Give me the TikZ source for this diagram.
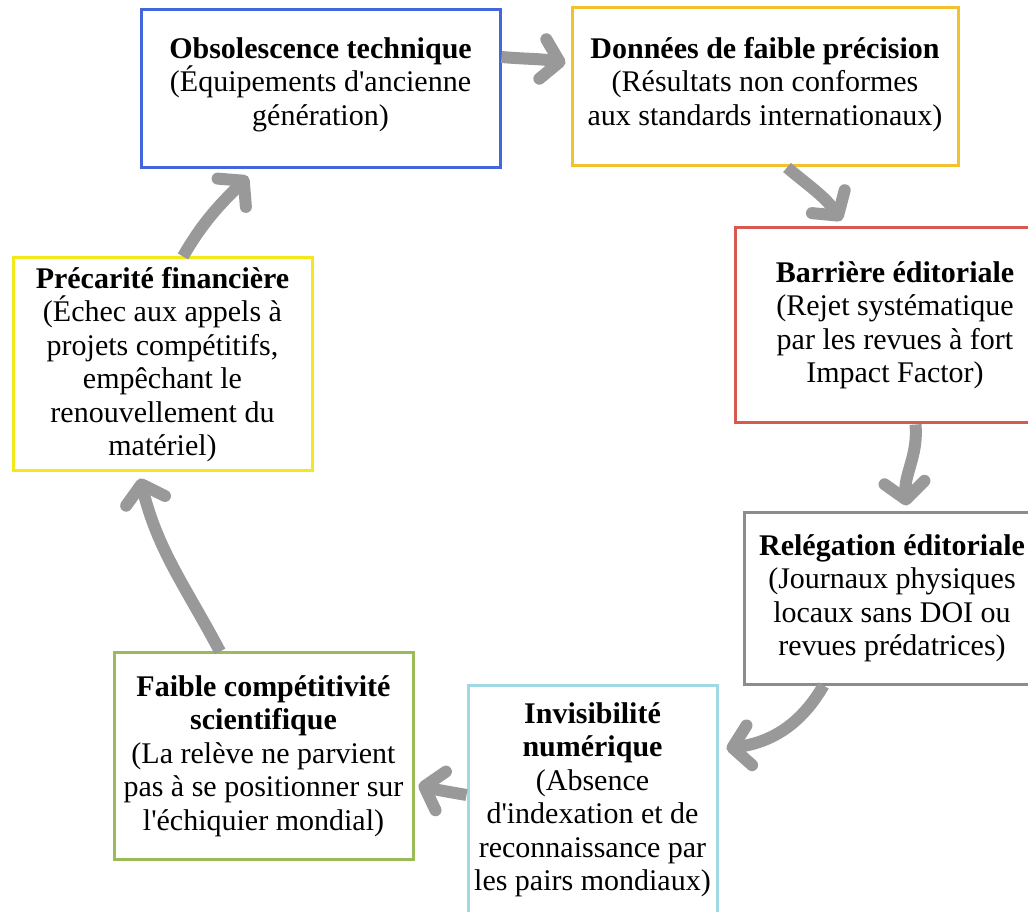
\documentclass[tikz,border=0pt]{standalone}
\usepackage{fontspec}
\setmainfont{Liberation Serif}
\usetikzlibrary{arrows.meta}
\definecolor{cblue}{HTML}{4466DD}
\definecolor{cgold}{HTML}{F2C12E}
\definecolor{cred}{HTML}{D65A4F}
\definecolor{cgray}{HTML}{8C8C8C}
\definecolor{clblue}{HTML}{A0D8E4}
\definecolor{cgreen}{HTML}{9BBB59}
\definecolor{cyellow}{HTML}{F2E81A}
\definecolor{arrowgray}{HTML}{999999}
\newcommand{\apos}{\textquotesingle}
\begin{document}
\begin{tikzpicture}[x=1pt,y=1pt,
  box/.style={draw, line width=3pt, inner sep=0pt, align=center,
    font=\fontsize{30}{33.5}\selectfont, text=black},
  flow/.style={draw=arrowgray, line width=12pt,
    -{Straight Barb[length=17pt,width=40pt,round]}}]
\useasboundingbox (0,0) rectangle (1028,911);
\clip (0,0) rectangle (1028,911);
\fill[white] (0,0) rectangle (1028,911);

\node[box, draw=cblue, minimum width=359pt, minimum height=158pt] (o) at (320.5,822)
  {\textbf{Obsolescence technique}\\(Équipements d\apos ancienne\\génération)\\[-18pt]};
\node[box, draw=cgold, minimum width=386pt, minimum height=158pt] (d) at (765,824)
  {\textbf{Données de faible précision}\\(Résultats non conformes\\aux standards internationaux)\\[-22pt]};
\node[box, draw=cred, minimum width=320pt, minimum height=195pt] (b) at (895,585.5)
  {\textbf{Barrière éditoriale}\\(Rejet systématique\\par les revues à fort\\Impact Factor)};
\node[box, draw=cgray, minimum width=296pt, minimum height=171pt] (r) at (892,312.5)
  {\textbf{Relégation éditoriale}\\(Journaux physiques\\locaux sans DOI ou\\revues prédatrices)};
\node[box, draw=clblue, minimum width=249pt, minimum height=230pt] (i) at (592.5,111)
  {\textbf{Invisibilité}\\\textbf{numérique}\\(Absence\\d\apos indexation et de\\reconnaissance par\\les pairs mondiaux)};
\node[box, draw=cgreen, minimum width=299pt, minimum height=206pt] (f) at (263.5,155)
  {\textbf{Faible compétitivité}\\\textbf{scientifique}\\(La relève ne parvient\\pas à se positionner sur\\l\apos échiquier mondial)};
\node[box, draw=cyellow, minimum width=299pt, minimum height=213pt] (p) at (162.5,546.5)
  {\textbf{Précarité financière}\\(Échec aux appels à\\projets compétitifs,\\empêchant le\\renouvellement du\\matériel)};

\draw[flow] ([yshift=32pt]o.east) to[out=-5,in=170] ([xshift=-5pt,yshift=24pt]d.west);
\draw[flow] ([xshift=22pt]d.south) to[out=-40,in=125] ([xshift=108pt,yshift=6pt]b.north west);
\draw[flow] ([xshift=182pt]b.south west) to[out=-85,in=95] ([xshift=164pt,yshift=6pt]r.north west);
\draw[flow] ([xshift=81pt]r.south west) to[out=-120,in=8] ([xshift=8pt,yshift=-65pt]i.north east);
\draw[flow] ([yshift=5pt]i.west) to[out=170,in=-15] ([xshift=4pt,yshift=-29pt]f.east);
\draw[flow] ([xshift=-43.5pt]f.north) to[out=118,in=-76] ([xshift=-22.5pt,yshift=-6pt]p.south);
\draw[flow] ([xshift=20.5pt]p.north) to[out=60,in=-135] ([xshift=-72.5pt,yshift=-7pt]o.south);
\end{tikzpicture}
\end{document}
